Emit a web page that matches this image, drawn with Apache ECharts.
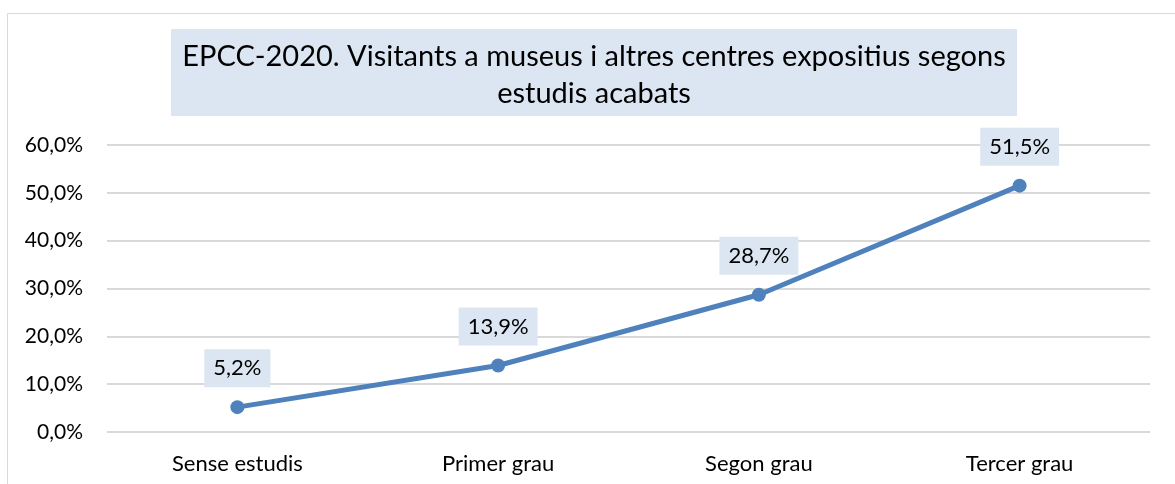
<!DOCTYPE html>
<html>
<head>
<meta charset="utf-8">
<script src="https://cdn.jsdelivr.net/npm/echarts@6/dist/echarts.min.js"></script>
<style>
  html, body { margin: 0; padding: 0; background: #fff; }
  #chart { width: 1175px; height: 484px; }
</style>
</head>
<body>
<div id="chart"></div>
<script>
// dades llegides del gràfic
var categories = ['Sense estudis', 'Primer grau', 'Segon grau', 'Tercer grau']
var visitants = [5.2, 13.9, 28.7, 51.5]
var titleText = 'EPCC-2020. Visitants a museus i altres centres expositius segons\nestudis acabats'

var font = 'Lato, "Open Sans", sans-serif'

function pct(v) {
  return v.toFixed(1).replace('.', ',') + '%'
}

var myChart = echarts.init(document.getElementById('chart'))

var option = {
  animation: false,
  backgroundColor: '#fff',
  graphic: [
    { // marc del gràfic
      type: 'rect',
      shape: { x: 7.5, y: 13.5, width: 1200, height: 500 },
      style: { fill: 'none', stroke: '#d9d9d9', lineWidth: 1 },
      silent: true
    },
    { // caixa del títol
      type: 'rect',
      shape: { x: 171, y: 29, width: 846, height: 87 },
      style: { fill: '#dce6f2' },
      silent: true
    }
  ],
  title: {
    text: titleText,
    left: 594,
    top: 38,
    textAlign: 'center',
    padding: 0,
    textStyle: {
      fontFamily: font,
      fontSize: 29,
      fontWeight: 'normal',
      color: '#000',
      lineHeight: 37
    }
  },
  grid: {
    left: 107,
    right: 25,
    top: 145,
    bottom: 52
  },
  xAxis: {
    type: 'category',
    data: categories,
    axisLine: { show: false },
    axisTick: { show: false },
    axisLabel: {
      margin: 21,
      fontFamily: font,
      fontSize: 22,
      color: '#000'
    }
  },
  yAxis: {
    type: 'value',
    min: 0,
    max: 60,
    interval: 10,
    axisLine: { show: false },
    axisTick: { show: false },
    axisLabel: {
      margin: 24,
      fontFamily: font,
      fontSize: 21,
      color: '#000',
      formatter: pct
    },
    splitLine: { lineStyle: { color: '#d9d9d9', width: 2 } }
  },
  series: [
    {
      type: 'line',
      data: visitants,
      symbol: 'circle',
      symbolSize: 14,
      lineStyle: { color: '#4f81bd', width: 5 },
      itemStyle: { color: '#4f81bd' },
      label: {
        show: true,
        position: 'top',
        distance: 13,
        fontFamily: font,
        fontSize: 22,
        color: '#000',
        backgroundColor: '#dce6f2',
        padding: [8, 9, 8, 9],
        formatter: function (p) { return pct(p.value) }
      }
    }
  ]
}

myChart.setOption(option)
</script>
</body>
</html>
